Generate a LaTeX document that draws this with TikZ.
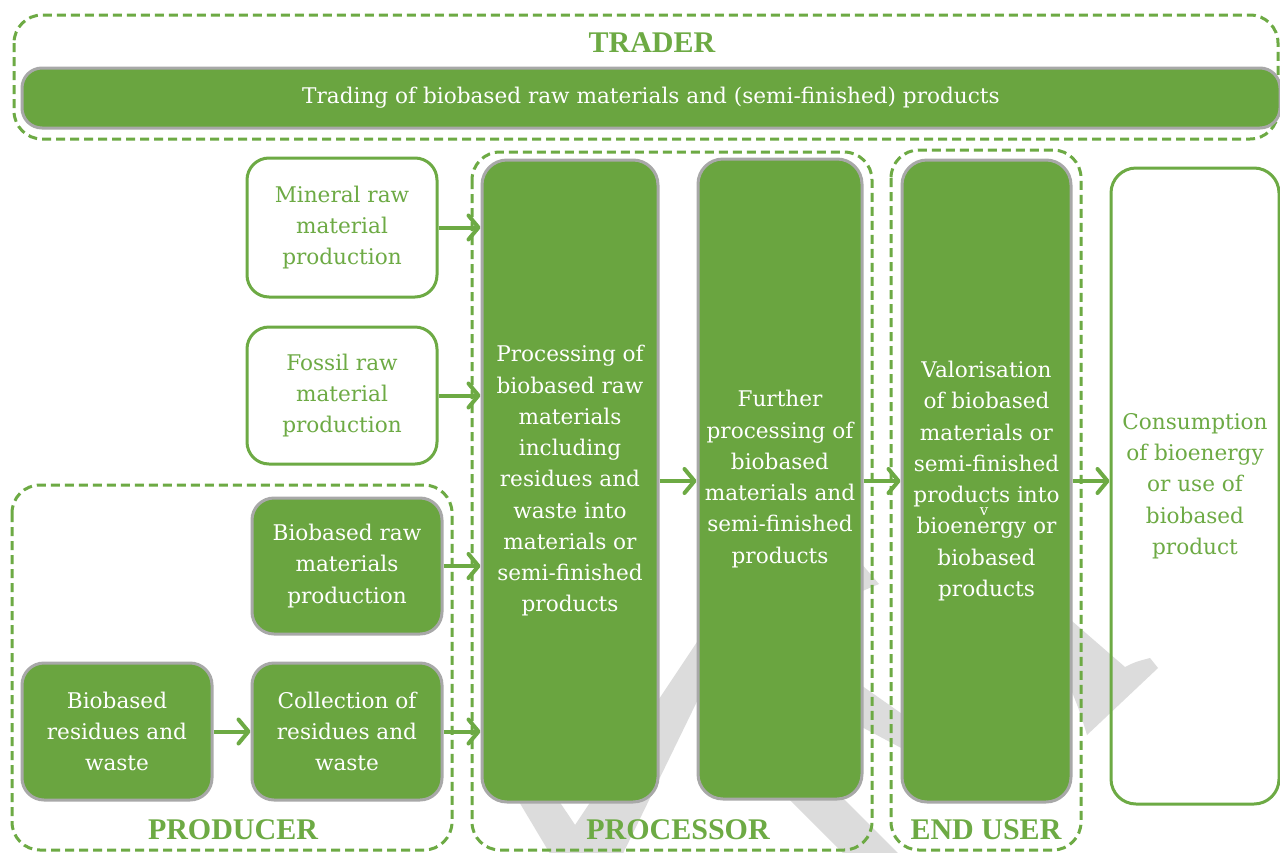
\documentclass[tikz,border=0pt]{standalone}
\usepackage{fontspec}
\setmainfont{DejaVu Serif}
\newfontfamily\labfont{Liberation Serif}
\usetikzlibrary{arrows.meta}
\definecolor{gfill}{HTML}{6AA540}
\definecolor{gline}{HTML}{6DAA44}
\definecolor{gbord}{HTML}{A8A8A8}
\definecolor{wm}{HTML}{DCDCDC}
\begin{document}
\begin{tikzpicture}[x=1pt,y=-1pt,
  gbox/.style={draw=gbord, line width=3pt, fill=gfill, rounded corners=22pt, text=white, align=center, inner sep=0pt, font=\fontsize{21.6}{31.25}\selectfont},
  wbox/.style={draw=gline, line width=3pt, rounded corners=22pt, text=gline, align=center, inner sep=0pt, font=\fontsize{21.6}{31.25}\selectfont},
  group/.style={draw=gline, line width=3pt, dash pattern=on 9pt off 5pt, rounded corners=28pt},
  grouplabel/.style={text=gline, font=\labfont\bfseries\fontsize{30}{30}\selectfont, inner sep=0pt},
  flow/.style={draw=gline, line width=4pt, -{Straight Barb[length=10pt,width=24pt,round]}},
  wmark/.style={fill=wm, draw=none}]
\useasboundingbox (0,0) rectangle (1280,852);
\fill[white] (0,0) rectangle (1280,852);
% watermark pieces
\path[wmark] (545,870) -- (615,870) -- (705,685) -- (705,630) -- cycle;
\path[wmark] (515,795) -- (555,795) -- (600,862) -- (555,862) -- cycle;
\path[wmark] (858,683) -- (858,725) -- (905,750) -- (905,716) -- cycle;
\path[wmark] (860,562) -- (879,584) -- (860,592) -- cycle;
\path[wmark] (760,770) -- (815,770) -- (912,867) -- (857,867) -- cycle;
\path[wmark] (1065,615) -- (1125,667) .. controls (1135,662) .. (1150,658) -- (1158,668) -- (1087,735) .. controls (1080,712) .. (1072,692) -- (1065,692) -- cycle;
% group frames
\draw[group] (14,15) rectangle (1278,139);
\draw[group] (12,485) rectangle (452,850);
\draw[group] (472,152) rectangle (872,850);
\draw[group] (891,150) rectangle (1081,850);
% labels
\node[grouplabel] (ltrader) at (652,43) {TRADER};
\node[grouplabel] (lproducer) at (233,830) {PRODUCER};
\node[grouplabel] (lprocessor) at (678,830) {PROCESSOR};
\node[grouplabel] (lenduser) at (986,830) {END USER};
% boxes
\node[gbox, rounded corners=20pt, minimum width=1258pt, minimum height=60pt] (trading) at (651,98) {Trading of biobased raw materials and (semi-finished) products};
\node[wbox, minimum width=190pt, minimum height=139pt] (mineral) at (342,227.5) {Mineral raw\\material\\production};
\node[wbox, minimum width=190pt, minimum height=137pt] (fossil) at (342,395.5) {Fossil raw\\material\\production};
\node[gbox, minimum width=190pt, minimum height=136pt] (bioraw) at (347,566) {Biobased raw\\materials\\production};
\node[gbox, minimum width=190pt, minimum height=137pt] (collect) at (347,731.5) {Collection of\\residues and\\waste};
\node[gbox, minimum width=190pt, minimum height=137pt] (residues) at (117,731.5) {Biobased\\residues and\\waste};
\node[gbox, rounded corners=25pt, minimum width=176pt, minimum height=642pt] (proc) at (570,481) {Processing of\\biobased raw\\materials\\including\\residues and\\waste into\\materials or\\semi-finished\\products};
\node[gbox, rounded corners=25pt, minimum width=164pt, minimum height=640pt] (further) at (780,479) {Further\\processing of\\biobased\\materials and\\semi-finished\\products};
\node[gbox, rounded corners=25pt, minimum width=169pt, minimum height=642pt] (valor) at (986.5,481) {Valorisation\\of biobased\\materials or\\semi-finished\\products into\\bioenergy or\\biobased\\products};
\node[text=white, inner sep=0pt, font=\fontsize{15}{15}\selectfont] (vmark) at (984,512) {v};
\node[wbox, rounded corners=25pt, minimum width=168pt, minimum height=636pt] (consume) at (1195,486) {Consumption\\of bioenergy\\or use of\\biobased\\product};
% flows
\draw[flow] (mineral.east) -- (mineral.east -| proc.west);
\draw[flow] (fossil.east) -- (fossil.east -| proc.west);
\draw[flow] (bioraw.east) -- (bioraw.east -| proc.west);
\draw[flow] (collect.east) -- (collect.east -| proc.west);
\draw[flow] (residues.east) -- (collect.west);
\draw[flow] (proc.east) -- (proc.east -| further.west);
\draw[flow] (further.east |- valor.east) -- (valor.west);
\draw[flow] (valor.east) -- (valor.east -| consume.west);
\end{tikzpicture}
\end{document}
